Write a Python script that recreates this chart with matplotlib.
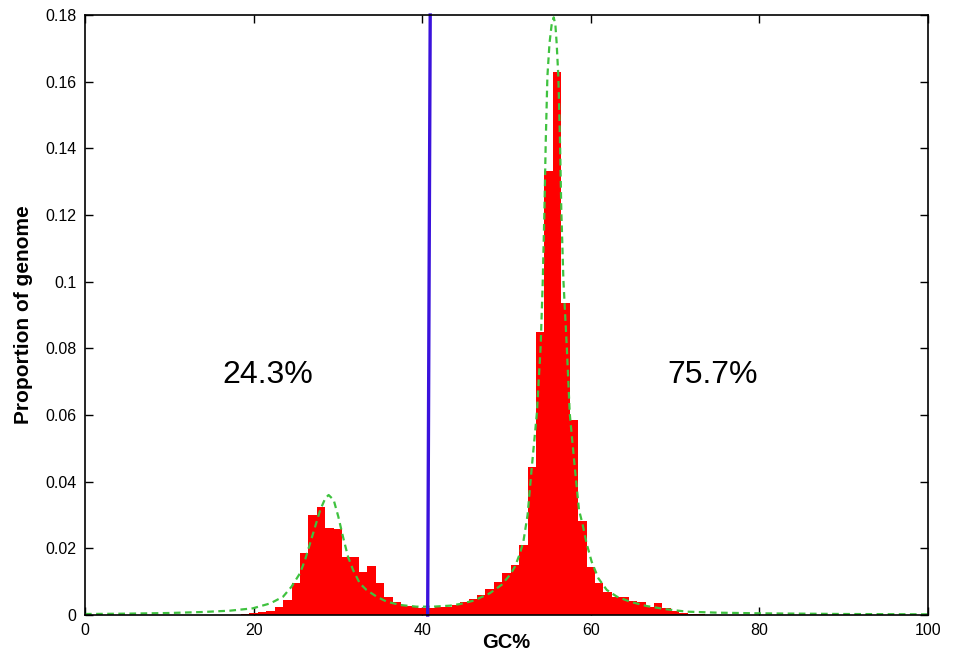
import matplotlib
matplotlib.use('Agg')
import matplotlib.pyplot as plt

plt.rcParams['font.family'] = ['Liberation Sans', 'DejaVu Sans']

# ===========================
# Histogram (GC% bins, proportion of genome)
# ===========================
gc_bins = list(range(19, 74))
proportion = [
    0.0003, 0.0005, 0.0008, 0.0013, 0.0025, 0.0045, 0.0095, 0.0185, 0.0300, 0.0323,  # 19-28
    0.0260, 0.0257, 0.0175, 0.0175, 0.0130, 0.0148, 0.0095, 0.0053, 0.0038, 0.0028,  # 29-38
    0.0026, 0.0021, 0.0022, 0.0025, 0.0025, 0.0030, 0.0040, 0.0047, 0.0060, 0.0077,  # 39-48
    0.0100, 0.0125, 0.0150, 0.0210, 0.0443, 0.0848, 0.1333, 0.1630, 0.0935, 0.0585,  # 49-58
    0.0283, 0.0145, 0.0097, 0.0070, 0.0053, 0.0055, 0.0042, 0.0040, 0.0025, 0.0035,  # 59-68
    0.0020, 0.0012, 0.0007, 0.0004, 0.0002,                                          # 69-73
]

# fitted curve
fit_x = [0, 5, 10, 14, 17.2, 19.9, 22.0, 23.5, 24.5, 25.5, 26.1, 26.7, 27.3, 27.9,
         28.5, 28.9, 29.5, 30.05, 30.6, 31.2, 31.8, 32.6, 33.4, 34.6, 35.8, 37.4,
         39.3, 41.3, 43.3, 44.5, 46.1, 48.0, 49.4, 50.4, 51.0, 51.6, 52.0, 52.5,
         53.0, 53.6, 54.05, 54.3, 54.5, 54.65, 54.85, 55.1, 55.35, 55.6, 55.8,
         55.95, 56.15, 56.35, 56.5, 56.75, 57.15, 57.5, 58.1, 58.6, 59.0, 59.5,
         60.1, 60.9, 61.9, 63.1, 64.65, 66.6, 69.0, 71.4, 75, 80, 90, 100]
fit_y = [0.0003, 0.0004, 0.0006, 0.0009, 0.0013, 0.0020, 0.0035, 0.0055, 0.0085,
         0.0125, 0.0165, 0.0215, 0.0265, 0.0315, 0.0350, 0.0360, 0.0345, 0.0295,
         0.0235, 0.0175, 0.0135, 0.0095, 0.0075, 0.0055, 0.0040, 0.0030, 0.0025,
         0.0025, 0.0028, 0.0033, 0.0043, 0.0065, 0.0090, 0.0120, 0.0145, 0.0185,
         0.0220, 0.0300, 0.0443, 0.0605, 0.0805, 0.1000, 0.1215, 0.1415, 0.1615,
         0.1715, 0.1770, 0.1793, 0.1770, 0.1715, 0.1615, 0.1415, 0.1215, 0.1005,
         0.0805, 0.0605, 0.0443, 0.0315, 0.0275, 0.0215, 0.0160, 0.0110, 0.0075,
         0.0055, 0.0040, 0.0027, 0.0017, 0.0010, 0.0007, 0.0005, 0.0003, 0.0002]

# separator line between the two components
split_x = [40.65, 40.95]
split_y = [0.0, 0.18]

share_labels = ['24.3%', '75.7%']
share_x = [21.7, 74.4]
share_y = 0.072

xticks = [0, 20, 40, 60, 80, 100]
yticks = [0, 0.02, 0.04, 0.06, 0.08, 0.1, 0.12, 0.14, 0.16, 0.18]
ytick_labels = ['0', '0.02', '0.04', '0.06', '0.08', '0.1', '0.12', '0.14', '0.16', '0.18']

# ===========================
# Plot
# ===========================
fig = plt.figure(figsize=(9.55, 6.55), dpi=100)
ax = fig.add_axes([85 / 955, 1 - 615 / 655, (928 - 85) / 955, 600 / 655])

ax.bar(gc_bins, proportion, width=1.0, color='#ff0000', edgecolor='none', zorder=2)
ax.plot(fit_x, fit_y, color='#3fc23f', linestyle=(0, (3, 2)), linewidth=1.6, zorder=3)
ax.plot(split_x, split_y, color='#3a12dc', linewidth=2.4, zorder=4, clip_on=False)

for lab, xx in zip(share_labels, share_x):
    ax.text(xx, share_y, lab, fontsize=23, ha='center', va='center')

ax.set_xlim(0, 100)
ax.set_ylim(0, 0.18)
ax.set_xticks(xticks)
ax.set_xticklabels([str(t) for t in xticks])
ax.set_yticks(yticks)
ax.set_yticklabels(ytick_labels)
ax.tick_params(direction='in', length=6, width=1, top=True, right=True,
               labelsize=11.5, pad=6)
for s in ax.spines.values():
    s.set_linewidth(1.2)
    s.set_zorder(5)

fig.text(506 / 955, 3 / 655, 'GC%', fontsize=14.5, fontweight='bold',
         ha='center', va='bottom')
ax.set_ylabel('Proportion of genome', fontsize=15, fontweight='bold', labelpad=9)

fig.savefig('out.png', dpi=100)
